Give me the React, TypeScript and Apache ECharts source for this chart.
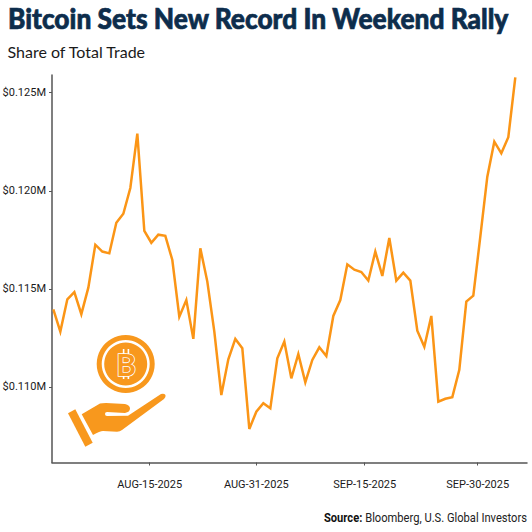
import React, { useEffect, useRef } from "react";
import * as echarts from "echarts";

const titleText = "Bitcoin Sets New Record In Weekend Rally";
const subtitleText = "Share of Total Trade";
const sourceLead = "Source:";
const sourceRest = " Bloomberg, U.S. Global Investors";

// $ thousands, one value per trading session
const values = [
  113.96, 112.82, 114.47, 114.83, 113.71, 115.06, 117.25, 116.9, 116.81, 118.37, 118.83, 120.14,
  122.91, 117.95, 117.35, 117.76, 117.7, 116.47, 113.58, 114.43, 112.45, 117.07, 115.37, 112.82,
  109.59, 111.41, 112.45, 111.97, 107.86, 108.74, 109.17, 108.91, 111.46, 112.31, 110.44, 111.68,
  110.24, 111.38, 112.02, 111.58, 113.62, 114.43, 116.25, 115.98, 115.86, 115.42, 116.9, 115.66,
  117.59, 115.42, 115.83, 115.42, 112.87, 112.05, 113.62, 109.25, 109.4, 109.48, 110.87, 114.35,
  114.65, 117.66, 120.72, 122.5, 121.91, 122.73, 125.78,
];
const sessions = values.map((_, i) => i);
const dateTicks = [13.77, 29, 44.49, 60.63];
const dateLabels = ["AUG-15-2025", "AUG-31-2025", "SEP-15-2025", "SEP-30-2025"];
const valueTicks = [110, 115, 120, 125];

const ORANGE = "#FB9516";
const ICON = "#F8981D";
const NAVY = "#0D2D4C";
const FONT = "Lato";
const AXIS_FONT = "Roboto";

const HAND =
  "M81.7,414.3 L100,403.5 Q102,403 106,403 L125,404 Q130,405 130,408.5 Q130,412 125,413 L107,412 Q105,412 105,414 Q105,416 107,416 L128,415.7 L161,394 Q164,393 165.5,395 Q166,397.5 164,399 L122,430 Q120,431.7 117,431.7 L103,431 Q100,431 93,435 Z";
echarts.graphic.registerShape("handIcon", echarts.graphic.extendPath(HAND, {}));

export default function App() {
  const ref = useRef<HTMLDivElement>(null);
  useEffect(() => {
    const chart = echarts.init(ref.current!, null, { renderer: "svg" });
    chart.setOption({
      animation: false,
      backgroundColor: "#fff",
      textStyle: { fontFamily: FONT },
      grid: { left: 52, top: 75, width: 475, height: 387.5, containLabel: false, outerBoundsMode: "none" },
      xAxis: {
        type: "value",
        min: -0.19,
        max: 67.67,
        splitLine: { show: false },
        axisLine: { show: true, onZero: false, lineStyle: { color: "#555", width: 1.5 } },
        axisTick: { show: true, length: 3, customValues: dateTicks, lineStyle: { color: "#555", width: 1 } },
        axisLabel: {
          customValues: dateTicks,
          margin: 16,
          fontSize: 11,
          color: "#1a1a1a",
          fontFamily: AXIS_FONT,
          formatter: (v: number) => dateLabels[dateTicks.indexOf(v)] ?? "",
        },
      },
      yAxis: {
        type: "value",
        min: 106.15,
        max: 125.9,
        splitLine: { show: false },
        axisLine: { show: true, onZero: false, lineStyle: { color: "#555", width: 1.5 } },
        axisTick: { show: true, length: 3, customValues: valueTicks, lineStyle: { color: "#555", width: 1 } },
        axisLabel: {
          customValues: valueTicks,
          margin: 6,
          fontSize: 11,
          color: "#1a1a1a",
          fontFamily: AXIS_FONT,
          formatter: (v: number) => `$${(v / 1000).toFixed(3)}M`,
        },
      },
      series: [
        {
          type: "line",
          data: sessions.map((s, i) => [s, values[i]]),
          showSymbol: false,
          smooth: false,
          lineStyle: { color: ORANGE, width: 2.5, join: "miter" },
        },
      ],
      graphic: [
        {
          type: "text",
          x: 8,
          y: 4,
          scaleX: 0.94,
          style: { text: titleText, fill: NAVY, stroke: NAVY, lineWidth: 0.7, font: `900 28px ${FONT}` },
        },
        {
          type: "text",
          x: 7.5,
          y: 43,
          style: { text: subtitleText, fill: "#1a1a1a", font: `400 16px ${FONT}` },
        },
        {
          type: "text",
          x: 527,
          y: 511.5,
          scaleX: 0.93,
          style: {
            text: `{b|${sourceLead}}{r|${sourceRest}}`,
            align: "right",
            rich: {
              b: { font: `700 12px ${AXIS_FONT}`, fill: "#111" },
              r: { font: `400 12px ${AXIS_FONT}`, fill: "#222" },
            },
          },
        },
        { type: "ring", shape: { cx: 125.7, cy: 364, r: 29, r0: 24 }, style: { fill: ICON } },
        { type: "circle", shape: { cx: 125.7, cy: 364, r: 21.5 }, style: { fill: ICON } },
        { type: "rect", shape: { x: 122.8, y: 349, width: 1.6, height: 6 }, style: { fill: "#fff" } },
        { type: "rect", shape: { x: 127.6, y: 349, width: 1.6, height: 6 }, style: { fill: "#fff" } },
        { type: "rect", shape: { x: 122.8, y: 373, width: 1.6, height: 6 }, style: { fill: "#fff" } },
        { type: "rect", shape: { x: 127.6, y: 373, width: 1.6, height: 6 }, style: { fill: "#fff" } },
        {
          type: "text",
          x: 126,
          y: 364,
          style: {
            text: "B",
            font: `700 30px ${FONT}`,
            fill: ICON,
            stroke: "#fff",
            lineWidth: 1.6,
            align: "center",
            verticalAlign: "middle",
          },
        },
        { type: "polygon", shape: { points: [[68, 413.3], [75.3, 409.3], [92.7, 442.7], [85.3, 446.7]] }, style: { fill: ICON } },
        { type: "handIcon", x: 0, y: 0, style: { fill: ICON } },
      ],
    });
    return () => chart.dispose();
  }, []);
  return <div ref={ref} style={{ position: "absolute", left: 0, top: 0, width: 532, height: 532 }} />;
}
